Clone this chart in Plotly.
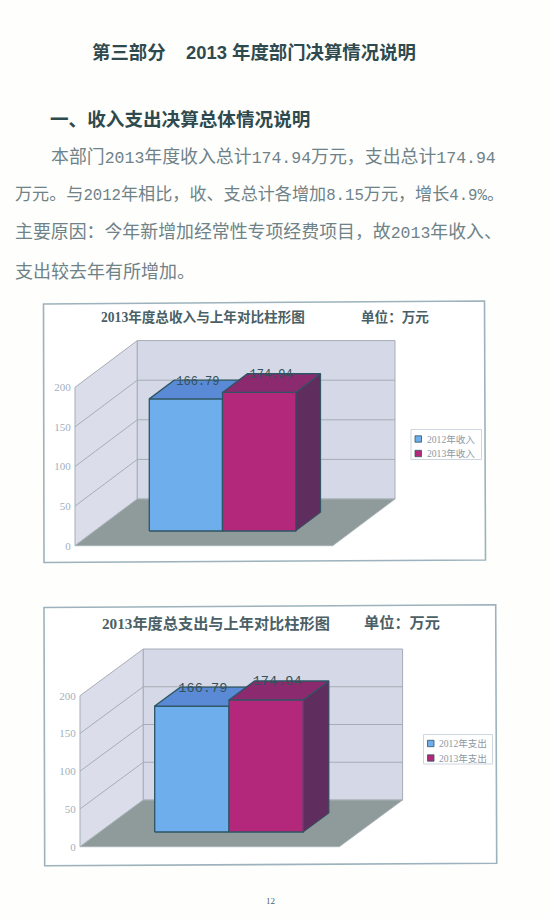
import re
import plotly.graph_objects as go

W, H = 550, 919

# ---- data ----
income_names = ["2012年收入", "2013年收入"]
income_values = [166.79, 174.94]
expense_names = ["2012年支出", "2013年支出"]
expense_values = [166.79, 174.94]
tick_values = [0, 50, 100, 150, 200]
income_title = "2013年度总收入与上年对比柱形图"
expense_title = "2013年度总支出与上年对比柱形图"
unit_label = "单位：万元"
page_title = "第三部分    2013 年度部门决算情况说明"
section_title = "一、收入支出决算总体情况说明"
body_lines = [
    "本部门2013年度收入总计174.94万元，支出总计174.94",
    "万元。与2012年相比，收、支总计各增加8.15万元，增长4.9%。",
    "主要原因：今年新增加经常性专项经费项目，故2013年收入、",
    "支出较去年有所增加。",
]
page_number = "12"

# ---- style ----
BLUE, BLUE_TOP = "#6FAEEC", "#5A8AD6"
RED, RED_TOP, RED_SIDE = "#B4287C", "#8B2A6E", "#5F2D5E"
BLUE_SIDE = "#3F6AA8"
EDGE = "#2E5563"
WALL, SIDE_WALL, FLOOR = "#D5D9E7", "#DBDEEA", "#8F9A9A"
GRID = "#A6ADB5"
FRAME = "#9DB2BC"
DARK = "#2F4A4E"
BODY = "#6F8288"
AXIS_TXT = "#A3B0BC"
SERIF = "Liberation Serif, Noto Sans CJK SC"
SANS = "Liberation Sans, Noto Sans CJK SC"


def fx(px):
    return px / W


def fy(py):
    return 1 - py / H


fig = go.Figure()
shapes, annots = [], []


def rect_path(pts):
    return "M " + " L ".join(f"{fx(x):.5f},{fy(y):.5f}" for x, y in pts) + " Z"


def chart(idx, names, values, g):
    xa = "x" if idx == 1 else f"x{idx}"
    ya = "y" if idx == 1 else f"y{idx}"
    left, right, top, bottom = g["dom"]
    bw = g["bar_w"]
    scale = g["scale"]  # px per value unit
    org_x, org_y = g["origin"]  # px of front-left floor corner
    depth_px_x, depth_px_y = g["depth"]  # rightward and upward shift of the floor's depth
    DX, DY = depth_px_x / bw, depth_px_y / scale
    x_front0 = 0.0
    x_front1 = g["floor_w"] / bw
    bar_d0, bar_d1 = g["bar_d"]
    bar_x0 = (g["bar_left"] - org_x) / bw - bar_d0 * DX

    def P(x, v, d):
        return x + d * DX, v + d * DY

    def poly(pts, fill, line=None, lw=1):
        xs = [p[0] for p in pts] + [pts[0][0]]
        ys = [p[1] for p in pts] + [pts[0][1]]
        fig.add_trace(go.Scatter(
            x=xs, y=ys, mode="lines", fill="toself", fillcolor=fill,
            line=dict(color=line or fill, width=lw), hoverinfo="skip",
            showlegend=False, xaxis=xa, yaxis=ya))

    vmax = tick_values[-1]
    # walls and floor
    poly([P(x_front0, 0, 0), P(x_front0, vmax, 0), P(x_front0, vmax, 1), P(x_front0, 0, 1)], SIDE_WALL, GRID, 1)
    poly([P(x_front0, 0, 1), P(x_front0, vmax, 1), P(x_front1, vmax, 1), P(x_front1, 0, 1)], WALL, GRID, 1)
    poly([P(x_front0, 0, 0), P(x_front1, 0, 0), P(x_front1, 0, 1), P(x_front0, 0, 1)], FLOOR, "#A9B2B6", 1)
    # gridlines
    for v in tick_values[1:-1]:
        pts = [P(x_front0, v, 0), P(x_front0, v, 1), P(x_front1, v, 1)]
        fig.add_trace(go.Scatter(
            x=[p[0] for p in pts], y=[p[1] for p in pts], mode="lines",
            line=dict(color=GRID, width=1), hoverinfo="skip",
            showlegend=False, xaxis=xa, yaxis=ya))
    # bars
    colors = [(BLUE, BLUE_TOP, BLUE_SIDE), (RED, RED_TOP, RED_SIDE)]
    for i, v in enumerate(values):
        x0, x1 = bar_x0 + i, bar_x0 + i + 1
        c_front, c_top, c_side = colors[i]
        poly([P(x1, 0, bar_d0), P(x1, v, bar_d0), P(x1, v, bar_d1), P(x1, 0, bar_d1)], c_side, EDGE, 1)
        poly([P(x0, 0, bar_d0), P(x0, v, bar_d0), P(x1, v, bar_d0), P(x1, 0, bar_d0)], c_front, EDGE, 1.3)
        poly([P(x0, v, bar_d0), P(x1, v, bar_d0), P(x1, v, bar_d1), P(x0, v, bar_d1)], c_top, EDGE, 1.3)
    # value labels
    lx, ly = [], []
    for i, v in enumerate(values):
        xc, yb = P(bar_x0 + i + 0.5, v, bar_d0)
        lx.append(xc + g["label_dx"] / bw)
        ly.append(yb + (bar_d1 - bar_d0) * DY - g["label_drop"] / scale)
    fig.add_trace(go.Scatter(
        x=lx, y=ly, mode="text", text=[f"{v:.2f}" for v in values],
        textposition="middle center",
        textfont=dict(family="Liberation Mono", size=g["label_size"], color="#34525A"),
        hoverinfo="skip", showlegend=False, xaxis=xa, yaxis=ya))

    # axes: data units mapped to the frame's pixel box
    xr = [(left - org_x) / bw, (right - org_x) / bw]
    yr = [(org_y - bottom) / scale, (org_y - top) / scale]
    xkey = "xaxis" if idx == 1 else f"xaxis{idx}"
    ykey = "yaxis" if idx == 1 else f"yaxis{idx}"
    fig.update_layout(**{
        xkey: dict(domain=[fx(left), fx(right)], range=xr, visible=False, fixedrange=True),
        ykey: dict(
            domain=[fy(bottom), fy(top)], range=yr, anchor="free",
            position=fx(org_x), tickmode="array", tickvals=tick_values,
            showgrid=False, zeroline=False, showline=False,
            ticks="outside", ticklen=2, tickcolor="rgba(0,0,0,0)",
            tickfont=dict(family="Liberation Serif", size=g["tick_size"], color=AXIS_TXT),
            fixedrange=True),
    })

    # frame
    shapes.append(dict(type="path", path=rect_path(g["frame"]), xref="paper", yref="paper",
                       fillcolor="#FFFFFF", line=dict(color=FRAME, width=1.6), layer="below"))
    # titles
    annots.append(dict(x=fx(g["title_x"]), y=fy(g["title_y"]), text=g["title"], xanchor="left",
                       font=dict(family=SERIF, size=g["title_size"], color="#4B5F66", weight="bold")))
    annots.append(dict(x=fx(g["unit_x"]), y=fy(g["title_y"] - 0.5), text=unit_label, xanchor="left",
                       font=dict(family=SERIF, size=g["title_size"], color="#4B5F66", weight="bold")))
    # legend
    lx0, lx1, ly0, ly1 = g["legend"]
    shapes.append(dict(type="rect", x0=fx(lx0), x1=fx(lx1), y0=fy(ly0), y1=fy(ly1), xref="paper", yref="paper",
                       fillcolor="#FFFFFF", line=dict(color="#CDD6DE", width=1)))
    for i, nm in enumerate(names):
        cy = g["legend_y"][i]
        shapes.append(dict(type="rect", x0=fx(lx0 + 4), x1=fx(lx0 + 10.5), y0=fy(cy - 3.2), y1=fy(cy + 3.2),
                           xref="paper", yref="paper", fillcolor=colors[i][0], line=dict(color=EDGE, width=0.8)))
        annots.append(dict(x=fx(lx0 + 13.5), y=fy(cy), text=nm, xanchor="left",
                           font=dict(family=SERIF, size=g["legend_size"], color="#8A9AA6")))


chart(1, income_names, income_values, dict(
    dom=(43, 485, 303, 562), bar_w=73.2, scale=0.792, origin=(75, 545.7),
    depth=(62.3, 46.7), floor_w=257.7, bar_left=149.3, bar_d=(0.315, 0.715),
    label_dx=12, label_drop=1.5, label_size=12, tick_size=11,
    frame=[(43.5, 304), (484.5, 301), (485.5, 560), (44, 562.5)],
    title=income_title, title_x=99, title_y=317, title_size=13.6, unit_x=359,
    legend=(411, 481.5, 429.5, 459.5), legend_y=(439, 453.5), legend_size=9.6))

chart(2, expense_names, expense_values, dict(
    dom=(44, 497, 605, 866), bar_w=74.3, scale=0.755, origin=(80, 846.7),
    depth=(63.3, 46.7), floor_w=259.3, bar_left=154.7, bar_d=(0.315, 0.72),
    label_dx=11, label_drop=1, label_size=13.6, tick_size=11,
    frame=[(44, 607.5), (495.7, 604.7), (496.7, 863.3), (44.7, 865.7)],
    title=expense_title, title_x=99.5, title_y=623, title_size=15.2, unit_x=362,
    legend=(423.5, 492.5, 734.5, 764), legend_y=(743.5, 758), legend_size=9.6))


def mono_digits(text, size):
    """Typewriter-style numerals, as in the scanned body text."""
    return re.sub(r"[0-9.%]+", lambda m: f'<span style="font-family:Liberation Mono;font-size:{size}px">{m.group(0)}</span>', text)


# page text
annots.append(dict(x=fx(90), y=fy(52), text=page_title, xanchor="left",
                   font=dict(family=SANS, size=18.4, color=DARK, weight="bold")))
annots.append(dict(x=fx(48), y=fy(119), text=section_title, xanchor="left",
                   font=dict(family=SERIF, size=18.6, color=DARK, weight="bold")))
body_pos = [(49, 157, 17.9), (12.5, 195, 17.1), (12.5, 233, 17.9), (12.5, 272, 18)]
for line, (x, y, s) in zip(body_lines, body_pos):
    annots.append(dict(x=fx(x), y=fy(y), text=mono_digits(line, round(s * 0.92, 1)), xanchor="left",
                       font=dict(family=SERIF, size=s, color=BODY)))
annots.append(dict(x=fx(270), y=fy(901), text=page_number, xanchor="center",
                   font=dict(family="Liberation Serif", size=9, color="#4B5F66")))
for a in annots:
    a.update(xref="paper", yref="paper", yanchor="middle", showarrow=False)

fig.update_layout(
    width=W, height=H, margin=dict(l=0, r=0, t=0, b=0), autosize=False,
    paper_bgcolor="#FEFEFC", plot_bgcolor="rgba(0,0,0,0)", showlegend=False,
    shapes=shapes, annotations=annots,
)
fig.write_html("out.html", config={"displayModeBar": False},
               post_script="document.body.style.margin='0';document.documentElement.style.overflow='hidden';")
